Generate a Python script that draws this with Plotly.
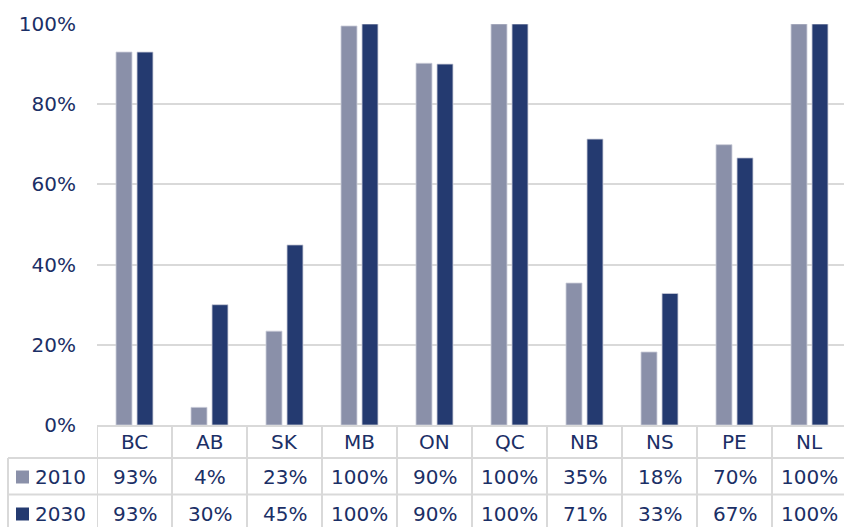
import plotly.graph_objects as go

categories = ["BC", "AB", "SK", "MB", "ON", "QC", "NB", "NS", "PE", "NL"]
vals_2010 = [93.0, 4.4, 23.4, 99.5, 90.2, 100.0, 35.4, 18.2, 69.9, 100.0]
vals_2030 = [93.0, 30.0, 44.9, 100.0, 90.0, 100.0, 71.3, 32.8, 66.6, 100.0]
labels_2010 = ["93%", "4%", "23%", "100%", "90%", "100%", "35%", "18%", "70%", "100%"]
labels_2030 = ["93%", "30%", "45%", "100%", "90%", "100%", "71%", "33%", "67%", "100%"]
series_names = ["2010", "2030"]
y_ticks = [0, 20, 40, 60, 80, 100]
y_tick_labels = ["0%", "20%", "40%", "60%", "80%", "100%"]

C2010 = "#8a90a9"
C2030 = "#243a70"
TXT = "#1b2f66"
GRID = "#d9d9d9"
FONT = "DejaVu Sans"

W, H = 844, 527
L, R, T, B = 97, 0, 24, 102
PH = H - T - B
PW = W - L - R

def py(pixel_y):
    return (H - B - pixel_y) / PH

def px(pixel_x):
    return (pixel_x - L) / PW

xs = list(range(len(categories)))
fig = go.Figure()
for name, vals, col in [(series_names[0], vals_2010, C2010), (series_names[1], vals_2030, C2030)]:
    fig.add_trace(go.Bar(x=xs, y=vals, name=name, marker=dict(color=col, line=dict(color="#c9ccd8", width=0.8)),
                         showlegend=False))

shapes = []
annotations = []
for i in range(len(categories) + 1):
    shapes.append(dict(type="line", xref="x", yref="paper", x0=i - 0.5, x1=i - 0.5, y0=0, y1=py(H),
                       line=dict(color=GRID, width=2)))
shapes.append(dict(type="line", xref="paper", yref="paper", x0=px(8), x1=px(8), y0=py(458), y1=py(H),
                   line=dict(color=GRID, width=2)))
for yy in [458, 494.5]:
    shapes.append(dict(type="line", xref="paper", yref="paper", x0=px(8), x1=1.0, y0=py(yy), y1=py(yy),
                       line=dict(color=GRID, width=2)))
for yy, col in [(477, C2010), (514, C2030)]:
    shapes.append(dict(type="rect", xref="paper", yref="paper", x0=px(16), x1=px(29), y0=py(yy - 6.5), y1=py(yy + 6.5),
                       line=dict(width=0), fillcolor=col))

fsize = 20
def ann(x, y, text, xref="x", xanchor="center"):
    return dict(x=x, y=y, xref=xref, yref="paper", text=text, showarrow=False,
                xanchor=xanchor, yanchor="middle", font=dict(size=fsize, color=TXT, family=FONT))

for i, c in enumerate(categories):
    annotations.append(ann(i, py(441.5), c))
    annotations.append(ann(i, py(477), labels_2010[i]))
    annotations.append(ann(i, py(514), labels_2030[i]))
for yy, name in [(477, series_names[0]), (514, series_names[1])]:
    annotations.append(ann(px(33), py(yy), name, xref="paper", xanchor="left"))

fig.update_layout(
    width=W, height=H,
    margin=dict(l=L, r=R, t=T, b=B, pad=0),
    plot_bgcolor="white", paper_bgcolor="white",
    barmode="group", bargap=0.44, bargroupgap=0.24,
    shapes=shapes, annotations=annotations,
    font=dict(family=FONT, color=TXT, size=fsize),
    xaxis=dict(range=[-0.5, -0.5 + PW / 75.0], showticklabels=False, showgrid=False, zeroline=False,
               showline=True, linecolor=GRID, linewidth=2, ticks=""),
    yaxis=dict(range=[0, 100], tickvals=y_ticks, ticktext=y_tick_labels, showgrid=True, gridcolor=GRID,
               gridwidth=2, zeroline=False, showline=False, ticks="", ticklabelstandoff=20,
               tickfont=dict(size=fsize, color=TXT, family=FONT)),
)
fig.write_html("out.html")
